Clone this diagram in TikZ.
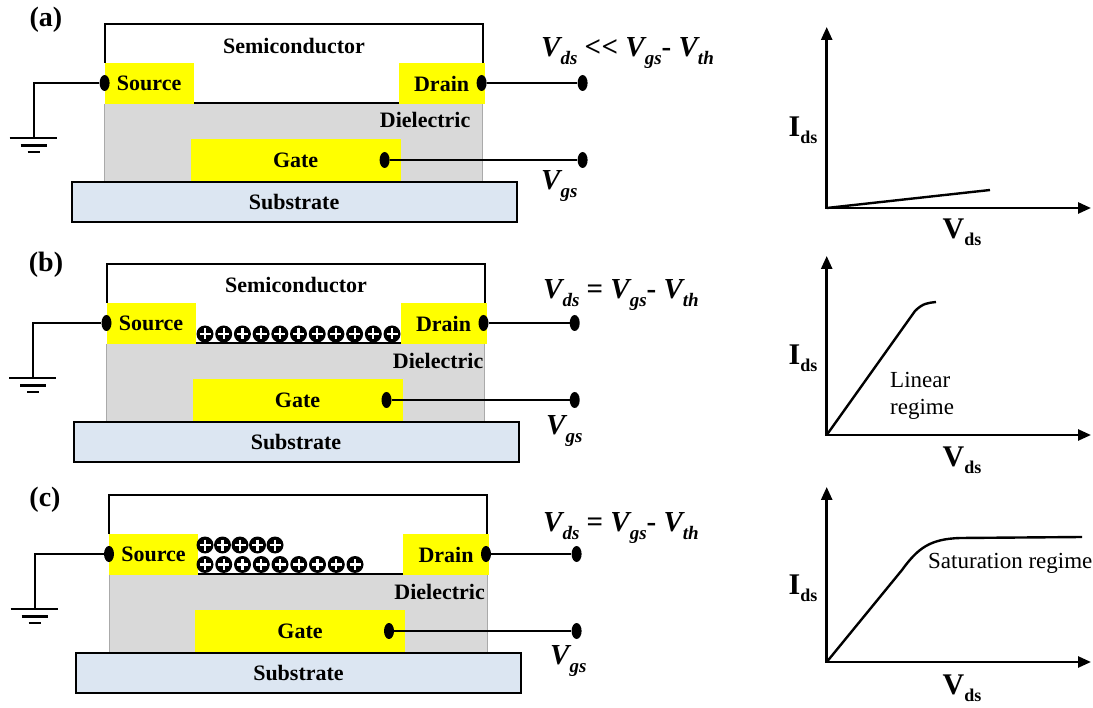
\documentclass[tikz,border=0pt]{standalone}
\usepackage{fontspec}
\setmainfont{Liberation Serif}
\usetikzlibrary{arrows.meta,shapes.geometric}

\definecolor{metal}{RGB}{255,255,0}
\definecolor{dielgray}{RGB}{217,217,217}
\definecolor{dieledge}{RGB}{170,170,170}
\definecolor{subblue}{RGB}{220,230,242}

% symbol with a lowered subscript (italic, for the bias conditions)
\newcommand\eqv[2]{#1\raisebox{-8pt}{\fontsize{19}{22}\selectfont #2}}
% bold axis label with subscript
\newcommand\ivlabel[2]{#1\raisebox{-7pt}{\fontsize{18}{20}\selectfont #2}}
% one positive charge: black disc with a white plus
\newcommand\pluscharge[2]{%
  \fill[black] (#1,#2) circle[radius=8.5pt];
  \draw[white,line width=2.2pt] (#1-5.5,#2) -- (#1+5.5,#2) (#1,#2-5.5) -- (#1,#2+5.5);}

\tikzset{
  wire/.style={line width=2pt},
  contact/.style={ellipse, fill=black, minimum width=10pt, minimum height=16pt, inner sep=0pt},
  ybox/.style={fill=metal, inner sep=0pt, outer sep=0pt, font=\fontsize{22}{26}\selectfont\bfseries},
  labeltext/.style={font=\fontsize{22}{26}\selectfont\bfseries, inner sep=0pt},
  paneltag/.style={font=\fontsize{28}{30}\selectfont\bfseries, inner sep=0pt},
  eqn/.style={font=\fontsize{29}{32}\selectfont\bfseries\itshape, inner sep=0pt},
  axisline/.style={line width=2.6pt, {Triangle[length=13pt,width=11pt]}-{Triangle[length=13pt,width=11pt]}},
  ivcurve/.style={line width=2.4pt, line join=round},
  regime/.style={font=\fontsize{23}{27}\selectfont, inner sep=0pt, align=left},
  axlabel/.style={font=\fontsize{30}{32}\selectfont\bfseries, inner sep=0pt},
}

% transistor cross-section: #1 tag, #2 left edge x, #3 channel y, #4 lead end x, #5 ground x
\newcommand\fet[5]{%
  \begin{scope}[shift={(#2,#3)}]
    % dielectric
    \fill[dielgray] (0,0) rectangle (378,77);
    \draw[dieledge, line width=1pt] (0,0) -- (0,77) (378,0) -- (378,77);
    % semiconductor outline and channel interface
    \draw[wire] (0,-41) |- (378,-80) -- (378,-41);
    \draw[line width=2.4pt] (89,-1) -- (294,-1);
    % electrodes
    \node[ybox, minimum width=89pt, minimum height=41pt, anchor=south west] (src#1) at (0,0) {Source};
    \node[ybox, minimum width=86pt, minimum height=41pt, anchor=south west] (drn#1) at (294,0) {Drain};
    \node[ybox, minimum width=210pt, minimum height=42pt, anchor=south west] (gate#1) at (86,77) {Gate};
    % substrate
    \node[draw, line width=2pt, fill=subblue, inner sep=0pt, minimum width=445pt, minimum height=40pt,
          anchor=north west, font=\fontsize{22}{26}\selectfont\bfseries] (sub#1) at (-34,77) {Substrate};
    % contacts and leads
    \node[contact] (sdot#1) at (0,-21) {};
    \node[contact] (ddot#1) at (377,-21) {};
    \node[contact] (gdot#1) at (280,56) {};
    \node[contact] (dend#1) at (#4,-21) {};
    \node[contact] (gend#1) at (#4,56) {};
    \draw[wire] (ddot#1) -- (dend#1);
    \draw[wire] (gdot#1) -- (gend#1);
    % ground
    \coordinate (gnd#1) at (#5,34);
    \draw[wire] (sdot#1) -| (gnd#1);
    \draw[line width=2.5pt] ([shift={(-24,0)}]gnd#1) -- ([shift={(23,0)}]gnd#1)
                            ([shift={(-13,7.5)}]gnd#1) -- ([shift={(13,7.5)}]gnd#1)
                            ([shift={(-6,14)}]gnd#1) -- ([shift={(6,14)}]gnd#1);
  \end{scope}}

\begin{document}
\begin{tikzpicture}[x=1pt,y=-1pt]
\fill[white] (0,0) rectangle (1093,708);
\useasboundingbox (0,0) rectangle (1093,708);

% ---------- (a) ----------
\fet{a}{104.6}{104}{478}{-71}
\node[paneltag] (taga) at (46,20) {(a)};
\node[labeltext] (semia) at (294,46) {Semiconductor};
\node[labeltext, anchor=east] (diela) at (470.5,120) {Dielectric};
\node[eqn, anchor=base west] (eqa) at (541,57) {\eqv{V}{ds} \upshape<\kern0.5pt< \itshape\eqv{V}{gs}\upshape- \itshape\eqv{V}{th}};
\node[eqn, anchor=base west] (vgsa) at (541,190) {\eqv{V}{gs}};

% ---------- (b) ----------
\fet{b}{106.5}{344}{468.2}{-73.2}
\node[paneltag] (tagb) at (46,265) {(b)};
\node[labeltext] (semib) at (296,285) {Semiconductor};
\node[labeltext, anchor=east] (dielb) at (483.5,361) {Dielectric};
\foreach \i in {0,...,10} {\pluscharge{205+18.7*\i}{334}}
\node[eqn, anchor=base west] (eqb) at (543,299) {\eqv{V}{ds} \upshape= \itshape\eqv{V}{gs}\upshape- \itshape\eqv{V}{th}};
\node[eqn, anchor=base west] (vgsb) at (546,435) {\eqv{V}{gs}};

% ---------- (c) ----------
\fet{c}{109}{575}{467.6}{-74.5}
\node[paneltag] (tagc) at (45,500) {(c)};
\node[labeltext, anchor=east] (dielc) at (485,592) {Dielectric};
\foreach \i in {0,...,8} {\pluscharge{205+18.75*\i}{564.5}}
\foreach \i in {0,...,4} {\pluscharge{205+17.5*\i}{545}}
\node[eqn, anchor=base west] (eqc) at (543,531) {\eqv{V}{ds} \upshape= \itshape\eqv{V}{gs}\upshape- \itshape\eqv{V}{th}};
\node[eqn, anchor=base west] (vgsc) at (550,664) {\eqv{V}{gs}};

% ---------- output characteristics ----------
% (a) far below threshold difference: small linear current
\coordinate (oa) at (826.7,208);
\coordinate (ya) at (826.7,27);
\coordinate (xa) at (1091,208);
\draw[axisline] (ya) -- (oa) -- (xa);
\coordinate (ea) at (990,190);
\draw[ivcurve] (oa) -- (ea);
\node[axlabel] (ia) at (803,130) {\ivlabel{I}{ds}};
\node[axlabel] (va) at (962,232) {\ivlabel{V}{ds}};

% (b) linear regime
\coordinate (ob) at (826.7,435);
\coordinate (yb) at (826.7,256);
\coordinate (xb) at (1091,435);
\draw[axisline] (yb) -- (ob) -- (xb);
\coordinate (kb) at (915,311);
\coordinate (eb) at (936,302);
\draw[ivcurve] (ob) -- (kb) .. controls (923,303) and (928,303) .. (eb);
\node[axlabel] (ib) at (803,358) {\ivlabel{I}{ds}};
\node[axlabel] (vb) at (962,460) {\ivlabel{V}{ds}};
\node[regime, anchor=west] (linb) at (890,396) {Linear\\regime};

% (c) saturation regime
\coordinate (oc) at (826.7,662);
\coordinate (yc) at (826.7,487);
\coordinate (xc) at (1091,662);
\draw[axisline] (yc) -- (oc) -- (xc);
\coordinate (kc) at (902,570);
\coordinate (mc) at (960,538);
\coordinate (ec) at (1082,537);
\draw[ivcurve] (oc) -- (kc) .. controls (918,548) and (930,539) .. (mc) -- (ec);
\node[axlabel] (ic) at (803,588) {\ivlabel{I}{ds}};
\node[axlabel] (vc) at (962,688) {\ivlabel{V}{ds}};
\node[regime, anchor=west] (satc) at (928,563) {Saturation regime};
\end{tikzpicture}
\end{document}
